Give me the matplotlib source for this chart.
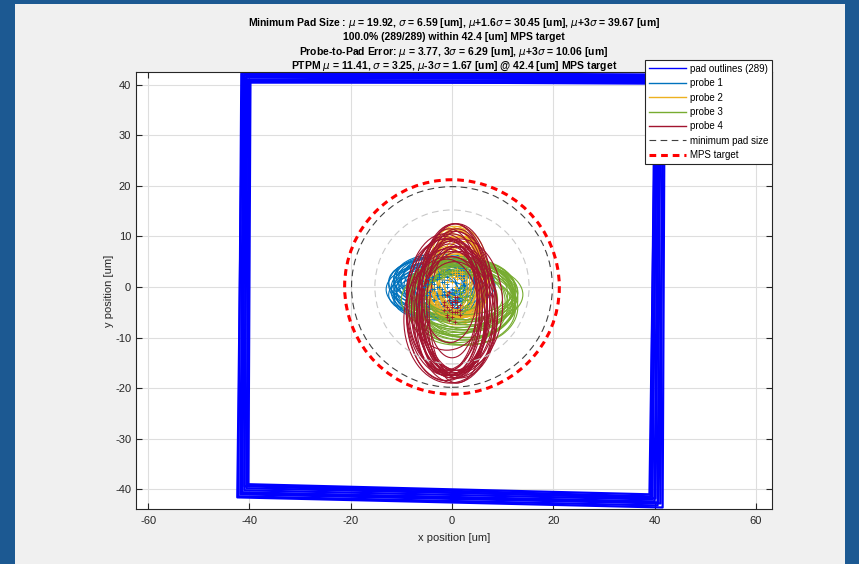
"""Pad outlines with probe scrub ellipses and minimum pad size circles."""

import matplotlib.pyplot as plt
from matplotlib.lines import Line2D
from matplotlib.patches import Circle, Ellipse, Polygon, Rectangle

plt.rcParams["font.family"] = ["Liberation Sans", "DejaVu Sans"]
plt.rcParams["axes.unicode_minus"] = False

# pad outline corners (um): top-left, top-right, bottom-right, bottom-left
pad_tl_x = [-41.6, -41.2, -40.8, -40.4, -40.0, -41.4, -40.6, -39.8, -41.0, -40.2]
pad_tl_y = [42.2, 41.8, 41.4, 41.0, 40.6, 42.4, 41.6, 40.4, 42.0, 40.8]
pad_tr_x = [41.2, 41.6, 40.8, 40.4, 40.0, 42.0, 41.0, 40.2, 41.8, 40.6]
pad_tr_y = [41.8, 41.4, 41.0, 40.6, 40.2, 42.0, 41.2, 40.4, 41.6, 40.8]
pad_br_x = [40.6, 41.2, 40.0, 39.6, 39.2, 41.6, 40.2, 39.0, 40.8, 39.4]
pad_br_y = [-43.2, -42.8, -42.4, -42.0, -41.6, -43.6, -41.8, -41.0, -42.6, -41.4]
pad_bl_x = [-42.2, -41.8, -41.4, -41.0, -40.6, -42.4, -41.0, -40.2, -41.6, -40.4]
pad_bl_y = [-41.4, -41.0, -40.6, -40.2, -39.8, -41.6, -39.4, -39.0, -40.8, -39.2]
n_pads = 289

# probe scrub ellipses: centre x/y, width, height (um)
p1_cx = [-3.5, -2.0, -4.5, -1.0, -3.0, -5.0, -2.5, -0.5, -4.0, -1.5, -3.0, -2.0, -4.5, -1.0,
         -3.5, -2.5, 0.0, -5.5, -3.0, -1.5, -4.0, -2.0, 0.5, -3.5, -5.0, -1.0, -2.5, -4.0]
p1_cy = [0.5, -0.5, 1.5, 0.0, -1.5, 0.5, 2.0, -2.0, -0.5, 1.0, 0.0, 1.0, -1.0, 0.5,
         -2.5, 2.5, -0.5, 0.0, 1.5, -1.0, 2.0, -1.5, 1.0, -0.5, -1.5, 2.0, 0.0, 1.0]
p1_w = [16, 18, 14, 17, 19, 15, 16, 14, 18, 17, 12, 8, 15, 19,
        16, 14, 13, 13, 17, 15, 14, 18, 12, 16, 13, 11, 10, 17]
p1_h = [9, 10, 8, 11, 9, 10, 8, 9, 10, 11, 7, 5, 9, 10,
        8, 7, 9, 8, 10, 9, 8, 9, 8, 11, 9, 7, 6, 9]

p2_cx = [1.0, 0.5, 1.5, 2.0, 0.0, 1.0, 2.5, 0.5, 1.5, 1.0, -0.5,
         2.0, 1.0, 0.0, 1.5, 0.5, 2.0, -1.0, 1.0, 0.5, 2.5, 0.0]
p2_cy = [2.5, 2.0, 3.0, 1.5, 2.0, 3.5, 1.0, 2.5, 0.5, 2.0, 1.5,
         3.0, -0.5, 1.0, 2.0, 3.0, 2.5, 1.0, 1.5, 0.0, 2.0, 3.0]
p2_w = [10, 11, 9, 10, 12, 8, 10, 9, 11, 6, 9, 10, 12, 7, 11, 10, 9, 8, 12, 10, 8, 11]
p2_h = [17, 16, 18, 15, 17, 16, 14, 18, 15, 8, 16, 17, 14, 12, 16, 18, 15, 14, 17, 13, 16, 17]

p3_cx = [2.5, 1.5, 3.0, 2.0, 1.0, 3.5, 2.0, 2.5, 1.5, 3.0, 2.0, 0.5, 3.5, 1.0,
         2.5, 4.0, 0.0, 2.0, 3.0, 1.5, 2.5, 3.5, 1.0, 2.0, 3.0, 0.5, 2.5, 1.5]
p3_cy = [-2.0, -1.5, -2.5, -1.0, -3.5, -2.0, -3.0, -0.5, -1.5, -4.0, -2.0, -1.0, -3.0, -2.5,
         -4.5, -1.5, -2.0, 0.0, -3.5, -1.0, -2.5, -0.5, -3.0, -2.0, -1.5, -2.5, -4.0, -0.5]
p3_w = [20, 21, 19, 22, 20, 18, 21, 20, 19, 20, 16, 12, 18, 22,
        20, 18, 17, 21, 19, 20, 21, 18, 19, 20, 22, 17, 19, 21]
p3_h = [14, 13, 15, 12, 16, 13, 15, 12, 14, 15, 10, 8, 14, 13,
        14, 12, 15, 11, 13, 14, 15, 12, 16, 13, 12, 14, 13, 12]

p4_cx = [0.0, -1.0, 1.0, 0.5, -0.5, 1.5, -1.5, 0.0, 0.5, -1.0, 1.0, 0.0, -0.5, 0.5,
         -1.5, 1.5, -0.5, 0.5, 1.0, -1.0, 0.0, -1.0, 1.5, 0.5, -0.5, 0.0, 1.0, -1.5]
p4_cy = [-3.5, -4.0, -3.0, -5.0, -2.5, -4.5, -3.0, -6.0, -2.0, -5.5, -4.0, -3.0, -1.0, -7.0,
         -4.5, -3.5, -6.5, -2.5, -5.0, -1.5, -4.0, -6.0, -5.5, -3.0, -4.5, -5.0, -2.0, -3.5]
p4_w = [14, 16, 13, 17, 12, 15, 15, 13, 14, 16, 12, 10, 11, 15,
        15, 17, 18, 13, 11, 16, 14, 13, 15, 16, 12, 17, 14, 13]
p4_h = [28, 27, 29, 26, 28, 25, 27, 24, 29, 26, 30, 22, 20, 24,
        28, 26, 25, 30, 26, 22, 27, 23, 25, 28, 26, 24, 29, 27]

# circle diameters (um)
mps_target = 42.4
min_pad_3s = 39.67
min_pad_16s = 30.45

title_lines = [
    r"Minimum Pad Size : $\mu$ = 19.92, $\sigma$ = 6.59 [um], $\mu$+1.6$\sigma$ = 30.45 [um], $\mu$+3$\sigma$ = 39.67 [um]",
    "100.0% (289/289) within 42.4 [um] MPS target",
    r"Probe-to-Pad Error: $\mu$ = 3.77, 3$\sigma$ = 6.29 [um], $\mu$+3$\sigma$ = 10.06 [um]",
    r"PTPM $\mu$ = 11.41, $\sigma$ = 3.25, $\mu$-3$\sigma$ = 1.67 [um] @ 42.4 [um] MPS target",
]

probe_colors = ["#0072BD", "#EDB120", "#77AC30", "#A2142F"]

W, H = 859, 564
fig = plt.figure(figsize=(W / 100, H / 100), dpi=100)
fig.patch.set_facecolor("#1c5992")
fig.patches.append(Rectangle((15 / W, 0), 830 / W, 560 / H, transform=fig.transFigure,
                             facecolor="#f0f0f0", edgecolor="none", zorder=-10))

ax = fig.add_axes([136 / W, 1 - 509 / H, 636 / W, 437 / H])
ax.set_facecolor("white")

for i in range(len(pad_tl_x)):
    pts = [(pad_tl_x[i], pad_tl_y[i]), (pad_tr_x[i], pad_tr_y[i]),
           (pad_br_x[i], pad_br_y[i]), (pad_bl_x[i], pad_bl_y[i])]
    ax.add_patch(Polygon(pts, closed=True, fill=False, edgecolor="#0000ff",
                         linewidth=1.6, joinstyle="round"))

probes = [(p1_cx, p1_cy, p1_w, p1_h), (p2_cx, p2_cy, p2_w, p2_h),
          (p3_cx, p3_cy, p3_w, p3_h), (p4_cx, p4_cy, p4_w, p4_h)]
for (cx, cy, w, h), c in zip(probes, probe_colors):
    for x, y, ew, eh in zip(cx, cy, w, h):
        ax.add_patch(Ellipse((x, y), ew, eh, fill=False, edgecolor=c, linewidth=0.8))
    ax.plot(cx, cy, "+", color=c, markersize=3, markeredgewidth=0.6)

ax.add_patch(Circle((0, 0), min_pad_16s / 2, fill=False, edgecolor="#c8c8c8",
                    linestyle=(0, (6, 4)), linewidth=0.8))
ax.add_patch(Circle((0, 0), min_pad_3s / 2, fill=False, edgecolor="#404040",
                    linestyle=(0, (6, 4)), linewidth=0.8))
ax.add_patch(Circle((0, 0), mps_target / 2, fill=False, edgecolor="#ff0000",
                    linestyle=(0, (2.2, 1.6)), linewidth=2.2))

ax.set_xlim(-62.4, 63.2)
ax.set_ylim(-43.9, 42.5)
ax.set_xticks(range(-60, 61, 20))
ax.set_yticks(range(-40, 41, 10))
ax.grid(True, color="#dedede", linewidth=0.8)
ax.set_axisbelow(True)
ax.tick_params(direction="in", length=4, width=0.8, labelsize=8, colors="#262626",
               top=True, right=True)
ax.tick_params(axis="x", pad=5)
for s in ax.spines.values():
    s.set_color("#262626")
    s.set_linewidth(0.8)
ax.set_xlabel("x position [um]", fontsize=8, color="#262626", labelpad=5)
ax.set_ylabel("y position [um]", fontsize=8, color="#262626", labelpad=1)

# four title lines, each on its own baseline
for line, y_px in zip(title_lines, [25.7, 40.4, 54.7, 68.7]):
    fig.text(454 / W, 1 - y_px / H, line, ha="center", va="baseline",
             fontsize=7.5, fontweight="bold", color="black")

handles = [
    Line2D([], [], color="#0000ff", linewidth=1),
    *[Line2D([], [], color=c, linewidth=1) for c in probe_colors],
    Line2D([], [], color="#404040", linestyle=(0, (6, 4)), linewidth=0.8),
    Line2D([], [], color="#ff0000", linestyle=(0, (2.2, 1.6)), linewidth=2.2),
]
labels = [f"pad outlines ({n_pads})", "probe 1", "probe 2", "probe 3", "probe 4",
          "minimum pad size", "MPS target"]
leg = ax.legend(handles, labels, loc="upper right", bbox_to_anchor=(772 / W, 1 - 60 / H),
                bbox_transform=fig.transFigure, fontsize=7, fancybox=False,
                framealpha=1, edgecolor="#262626", borderaxespad=0,
                handlelength=3.8, labelspacing=0.45, borderpad=0.4, handletextpad=0.4)
leg.get_frame().set_linewidth(0.8)

fig.savefig("out.png", dpi=100, facecolor=fig.get_facecolor())
